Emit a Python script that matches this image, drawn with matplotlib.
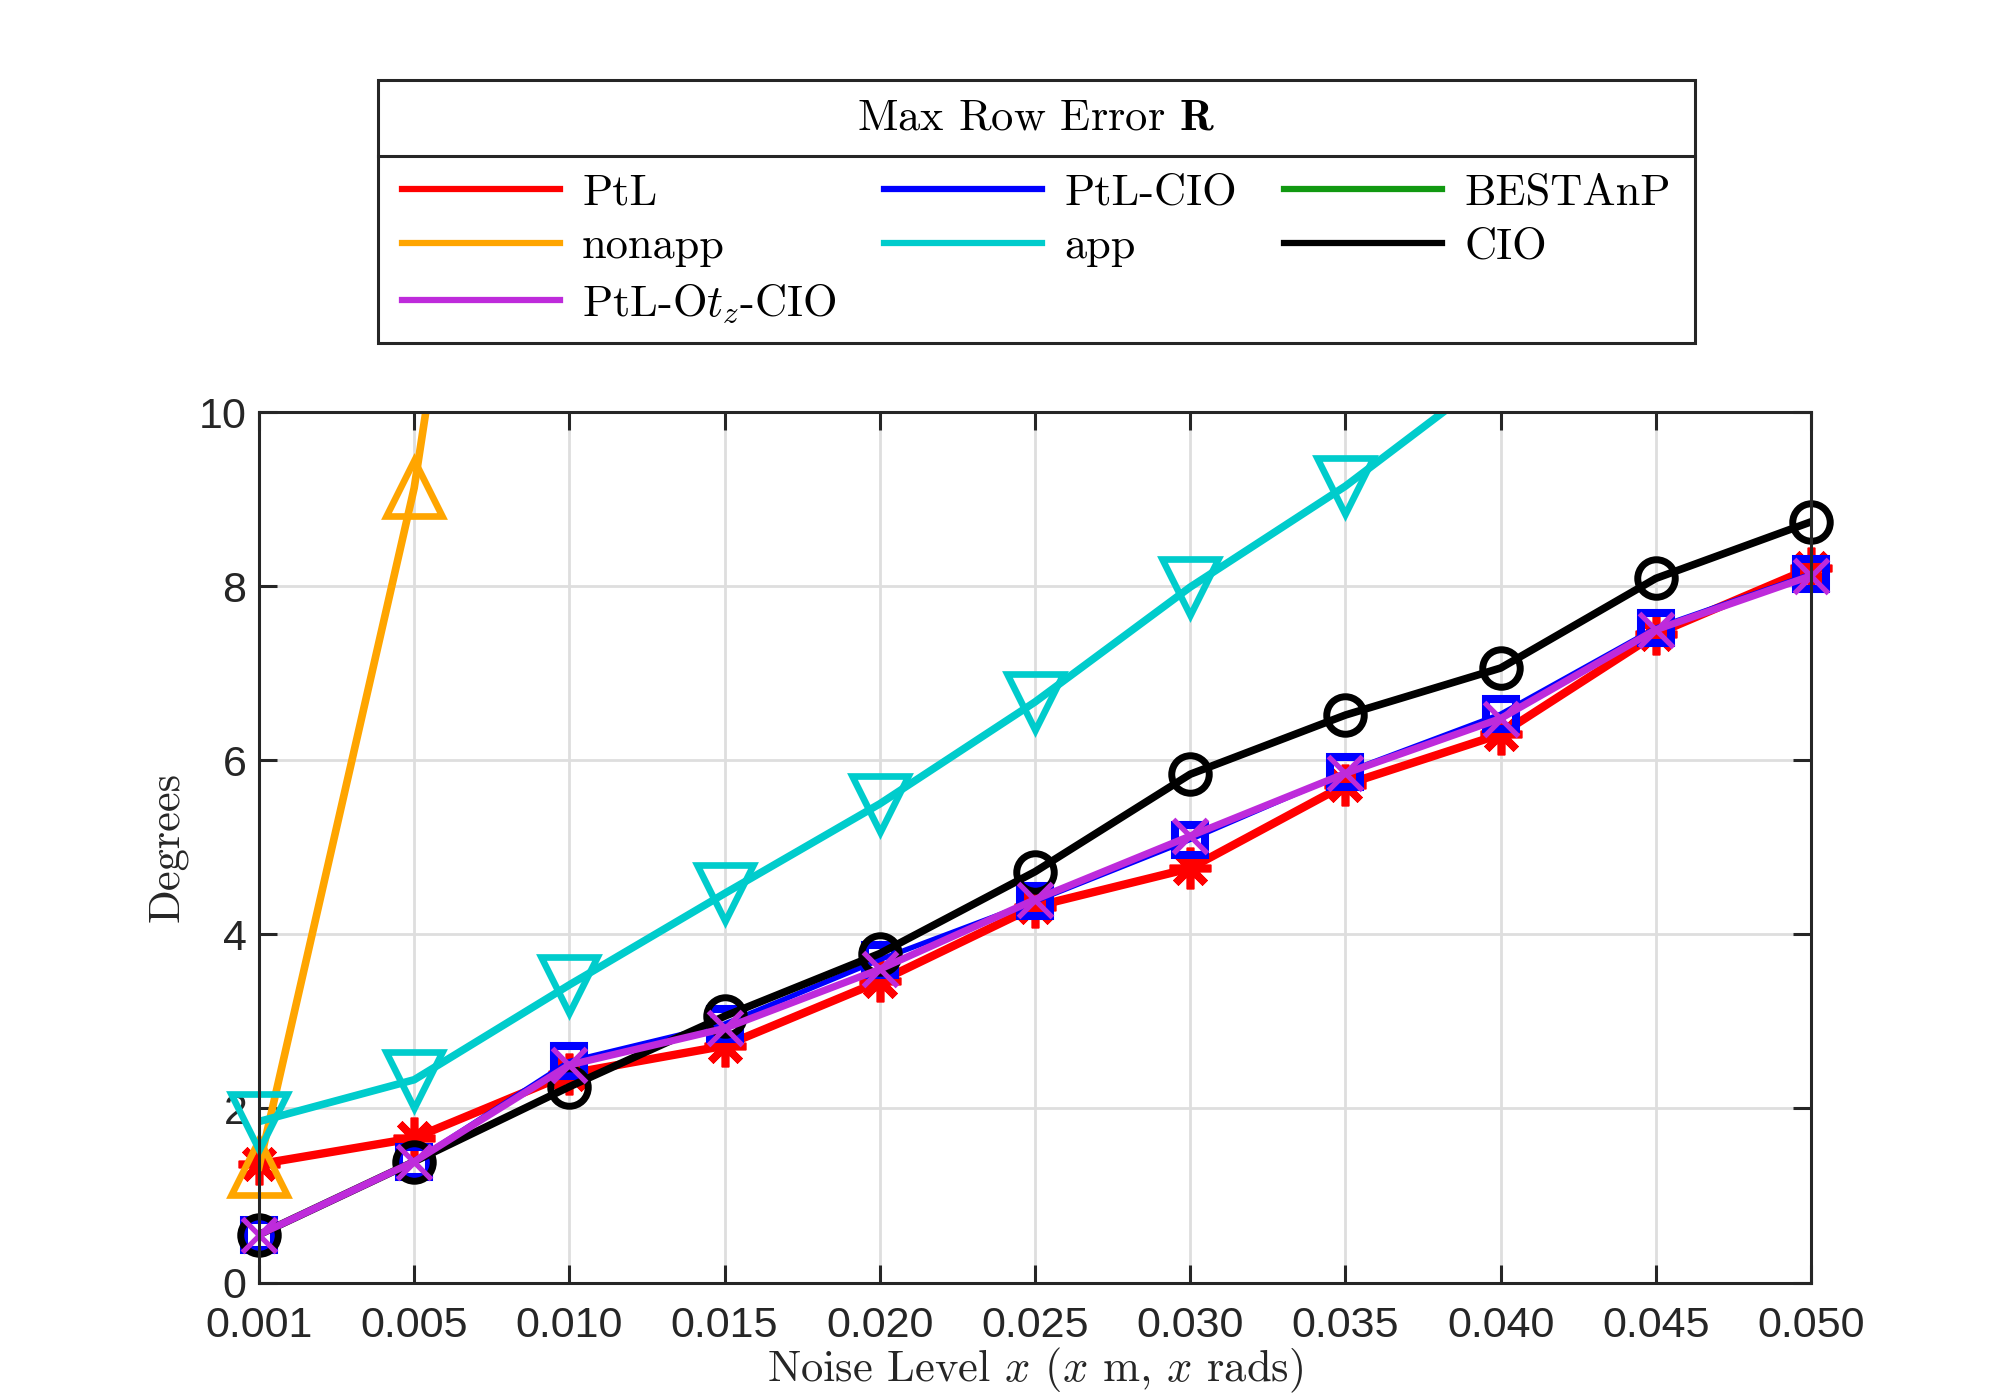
import numpy as np
import matplotlib.pyplot as plt
from matplotlib.lines import Line2D
from matplotlib.patches import Rectangle

plt.rcParams['mathtext.fontset'] = 'cm'
plt.rcParams['axes.formatter.use_mathtext'] = True

noise = ['0.001', '0.005', '0.010', '0.015', '0.020', '0.025',
         '0.030', '0.035', '0.040', '0.045', '0.050']

# values (degrees); nan = off the chart
ptl = [1.36, 1.66, 2.40, 2.72, 3.46, 4.32, 4.76, 5.72, 6.30, 7.45, 8.21]
ptl_cio = [0.55, 1.39, 2.54, 2.97, 3.71, 4.38, 5.09, 5.86, 6.53, 7.52, 8.14]
nonapp = [1.33, 9.13, 20.8, np.nan, np.nan, np.nan, np.nan, np.nan, np.nan, np.nan, np.nan]
app = [1.85, 2.33, 3.42, 4.47, 5.50, 6.67, 7.99, 9.15, 10.50, np.nan, np.nan]
cio = [0.55, 1.39, 2.25, 3.06, 3.78, 4.72, 5.84, 6.52, 7.06, 8.09, 8.74]
ptl_otz_cio = [0.55, 1.39, 2.50, 2.92, 3.60, 4.40, 5.13, 5.85, 6.48, 7.50, 8.12]

RED, BLUE, GREEN = '#FF0000', '#0000FF', '#119911'
ORANGE, CYAN, BLACK, PURPLE = '#FFA500', '#00CCCC', '#000000', '#BE2BDB'
AX = '#262626'
SERIF = 'cmr10'
YMAX = 10

fig = plt.figure(figsize=(20, 14), dpi=100)
ax = fig.add_axes([0.1295, 0.0839, 0.7760, 0.6217])
x = np.arange(len(noise))


def draw(vals, color, lw, marker, ms, mew, filled=False):
    y = np.array(vals, dtype=float)
    ax.plot(x, y, color=color, lw=lw)
    # markers are not clipped at the box edge, but only where the point is on the chart
    ym = np.where(y <= YMAX, y, np.nan)
    ax.plot(x, ym, ls='none', marker=marker, ms=ms, mew=mew, color=color,
            mfc=color if filled else 'none', clip_on=False)


draw(ptl, RED, 6, (8, 2, 0), 30, 5.5, filled=True)
draw(ptl_cio, BLUE, 3.8, 's', 21, 5.8)
draw(nonapp, ORANGE, 5.5, '^', 40, 4.8)
draw(app, CYAN, 5.5, 'v', 40, 4.8)
draw(cio, BLACK, 5.5, 'o', 27, 5)
draw(ptl_otz_cio, PURPLE, 5.2, 'x', 25, 3.8, filled=True)

ax.set_xlim(0, len(noise) - 1)
ax.set_ylim(0, YMAX)
ax.set_xticks(x)
ax.set_xticklabels(noise)
ax.set_yticks([0, 2, 4, 6, 8, 10])
ax.grid(True, color='#dedede', lw=2)
ax.set_axisbelow(True)
for s in ax.spines.values():
    s.set_color(AX)
    s.set_linewidth(2.2)
ax.tick_params(direction='in', length=13, width=2.2, color=AX, top=True, right=True,
               labelsize=31, labelcolor=AX, pad=9)
ax.tick_params(axis='x', pad=17)
for lab in ax.get_xticklabels() + ax.get_yticklabels():
    lab.set_family('Liberation Sans')

ax.set_xlabel(r'Noise Level $x$ ($x$ m, $x$ rads)', family=SERIF, fontsize=32, color=AX, labelpad=0)
ax.set_ylabel('Degrees', family=SERIF, fontsize=32, color=AX, labelpad=8)

# legend box with title row
bx0, bx1, by0, by1, bsep = 0.1889, 0.8475, 0.7548, 0.9426, 0.8888
fig.add_artist(Rectangle((bx0, by0), bx1 - bx0, by1 - by0, transform=fig.transFigure,
                         fill=False, ec=AX, lw=2.2))
fig.add_artist(Line2D([bx0, bx1], [bsep, bsep], transform=fig.transFigure, color=AX, lw=2.2))
fig.text((bx0 + bx1) / 2, (bsep + by1) / 2, r'Max Row Error $\mathbf{R}$', family=SERIF,
         fontsize=32, ha='center', va='center')

names = ['PtL', 'nonapp', r'PtL-O$t_z$-CIO', 'PtL-CIO', 'app', 'BESTAnP', 'CIO']
cols = [RED, ORANGE, PURPLE, BLUE, CYAN, GREEN, BLACK]
handles = [Line2D([], [], color=c, lw=4.5) for c in cols]
fig.legend(handles, names, loc='upper left', bbox_to_anchor=(0.2010, 0.7548, 0.6344, 0.121),
           mode='expand', ncol=3, frameon=False, borderpad=0, borderaxespad=0,
           handlelength=3.55, handletextpad=0.5, labelspacing=0.3,
           prop={'family': SERIF, 'size': 32})

fig.savefig('out.png', dpi=100, facecolor='white')
